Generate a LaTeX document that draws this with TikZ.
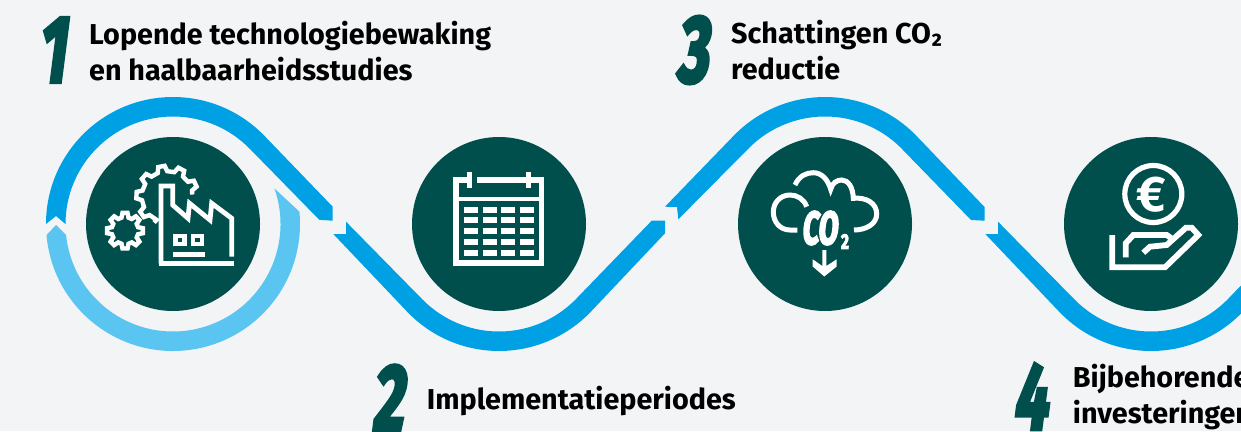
\documentclass[tikz,border=0pt]{standalone}
\usepackage{fontspec}
\setmainfont{Fira Sans}
\newfontfamily\heavyfont{Fira Sans}[UprightFont=* Bold,FakeBold=5]
\usetikzlibrary{calc}
\definecolor{bg}{HTML}{F2F4F6}
\definecolor{bandblue}{HTML}{00A1E4}
\definecolor{lightblue}{HTML}{5BC5F2}
\definecolor{teal}{HTML}{004F4C}
\tikzset{
  disc/.style={circle,fill=teal,minimum size=174pt,inner sep=0pt},
  label/.style={inner sep=0pt,align=left,anchor=west,text=black,font=\fontsize{28.75}{36}\selectfont\bfseries},
  numeral/.style={inner sep=0pt,text=teal,font=\fontsize{94}{94}\heavyfont,xscale=.64,xslant=.2},
  icon/.style={draw=white,line width=4.8pt,miter limit=6},
}
\begin{document}
\begin{tikzpicture}[x=1pt,y=-1pt]
\useasboundingbox (0,0) rectangle (1241,431);
\clip (0,0) rectangle (1241,431);
\fill[bg] (0,0) rectangle (1241,431);
\node[disc] (c1) at (173,224) {};
\node[disc] (c2) at (499,224) {};
\node[disc] (c3) at (825,224) {};
\node[disc] (c4) at (1151,224) {};
% ribbon
\fill[bandblue] ($(c1)+(180:127pt)$) arc[start angle=180,end angle=44.1,radius=127pt] -- (332.7,206.7) -- (332.7,220.7) -- (319.3,219.8) -- ($(c1)+(44.1:107.5pt)$) arc[start angle=44.1,end angle=180,radius=107.5pt] -- (56,216) -- cycle;
\fill[lightblue] (56,225) -- ($(c1)+(185:127pt)$) arc[start angle=185,end angle=365.6,radius=127pt] -- ($(c1)+(19.3:107.5pt)$) arc[start angle=379.3,end angle=185.8,radius=107.5pt] -- cycle;
\fill[bandblue] (346,221.7) -- (346,234) -- (333.3,234) -- ($(c2)+(224.1:127pt)$) arc[start angle=224.1,end angle=315.9,radius=127pt] -- (665,233.3) -- (665,220.7) -- (651.7,220.7) -- ($(c2)+(315.9:107.5pt)$) arc[start angle=315.9,end angle=224.1,radius=107.5pt] -- cycle;
\fill[bandblue] (665,206.7) -- ($(c3)+(135.9:127pt)$) arc[start angle=135.9,end angle=44.1,radius=127pt] -- (984.5,207) -- (984.5,220.7) -- (971,220) -- ($(c3)+(44.1:107.5pt)$) arc[start angle=44.1,end angle=135.9,radius=107.5pt] -- (678.3,219.3) -- (677,207) -- cycle;
\fill[bandblue] (998,221.7) -- (998,234) -- (985.3,234) -- ($(c4)+(224.1:127pt)$) arc[start angle=224.1,end angle=315.9,radius=127pt] -- ++(60,-62) -- ++(-14,-14) -- ($(c4)+(315.9:107.5pt)$) arc[start angle=315.9,end angle=224.1,radius=107.5pt] -- cycle;
% texts
\node[numeral] (n1) at (55.5,50) {1};
\node[numeral] (n2) at (391.5,398) {2};
\node[numeral] (n3) at (696,50) {3};
\node[numeral] (n4) at (1034,396.5) {4};
\node[label] (t1) at (89,51.5) {Lopende technologiebewaking\\en haalbaarheidsstudies};
\node[label] (t2) at (426.7,401) {Implementatieperiodes};
\node[label] (t3) at (731,50) {Schattingen CO\raisebox{2.5pt}{₂}\\reductie};
\node[label] (t4) at (1072.7,397.5) {Bijbehorende\\investeringen};
% factory icon
\draw[icon] (161,263.3) -- (161,186) -- (172.7,186) -- (172.7,205) -- (188,218.3) -- (189.5,203.3) -- (210,220) -- (211.7,203.3) -- (231.7,218.3) -- (231.7,256.7);
\draw[icon] (159,263.3) -- (233.7,263.3);
\draw[icon,line width=4.4pt] (175.5,236) rectangle (184.5,244);
\draw[icon,line width=4.4pt] (193,236) rectangle (202,244);
\fill[white] (172.7,252.3) rectangle (205,256.7);
\begin{scope}[shift={(167.3,196.7)}]
\draw[icon,line width=4.4pt] (5:25pt)
 \foreach \t in {25,63,101,139,177,215} { -- (\t-11:25.5pt) -- (\t-6:31pt) -- (\t+6:31pt) -- (\t+11:25.5pt) } -- (245:25.5pt) -- (243:29pt);
\end{scope}
\begin{scope}[shift={(125,230.7)}]
\draw[icon,line width=4.4pt] (-15:13.5pt)
 \foreach \t in {0,45,...,315} { -- (\t-15:13.5pt) -- (\t-8:18pt) -- (\t+8:18pt) -- (\t+15:13.5pt) } -- cycle;
\end{scope}
% calendar icon
\draw[icon,line width=5.4pt] (471,180) -- (456,180) -- (456,263) -- (541.5,263) -- (541.5,180) -- (477.3,180);
\draw[icon,line width=4.8pt] (456,199) -- (541.5,199);
\draw[icon,line width=5pt] (469.2,171.7) -- (469.2,187.7);
\draw[icon,line width=5pt] (528.5,171.7) -- (528.5,187.7);
\foreach \xa/\xb in {463.7/477.7,482.7/496.7,500.7/514.7,520/534}
 \foreach \ya/\yb in {206.7/212.7,217/222.7,228/234,239.3/245,250/256}
  \fill[white] (\xa,\ya) rectangle (\xb,\yb);
% cloud icon
\draw[icon,line width=5pt] (795,185) .. controls (799,176) and (806,172.7) .. (813.3,172.7) .. controls (822,172.7) and (828,180) .. (830.7,189.3) .. controls (832,183) and (837,180) .. (841.7,180) .. controls (848,180) and (853,187) .. (853.3,198.3) .. controls (866,197) and (876.7,203) .. (876.7,214) .. controls (876.7,224) and (866,230) .. (854,230);
\draw[icon,line width=5pt] (806.7,206.7) .. controls (804,199) and (797,195) .. (790,195) .. controls (780,195) and (773.3,203) .. (773.3,212) .. controls (773.3,222) and (780,230) .. (790,230) -- (797.3,230);
\node[inner sep=0pt,text=white,font=\fontsize{46}{46}\heavyfont,xscale=.62,xslant=.15] (co) at (821,228) {CO};
\node[inner sep=0pt,text=white,font=\fontsize{21}{21}\heavyfont,xscale=.72] (two) at (845,241.5) {2};
\fill[white] (812.7,259.3) -- (812.7,266.5) -- (824.3,276.5) -- (836.7,266.5) -- (836.7,259.3) -- (826.3,266) -- (826.3,250) -- (822.3,250) -- (822.3,266) -- cycle;
% euro hand icon
\draw[icon,line width=5.2pt] (1153.3,194) circle (28.5pt);
\node[inner sep=0pt,text=white,font=\fontsize{50}{50}\selectfont\bfseries] (eur) at (1151.5,194.5) {€};
\draw[icon,line width=5.8pt] (1112.3,235) -- (1112.3,267.3) -- (1165,267.3) -- (1198.3,235) -- (1191.7,227.7) -- (1186,227.7) -- (1166.7,245) -- (1150,246.7) -- (1143.3,252.7);
\draw[icon,line width=5.8pt] (1125.7,257.3) -- (1125.7,243.3) -- (1133.3,235) -- (1166.7,235) -- (1171,238);
\end{tikzpicture}
\end{document}
